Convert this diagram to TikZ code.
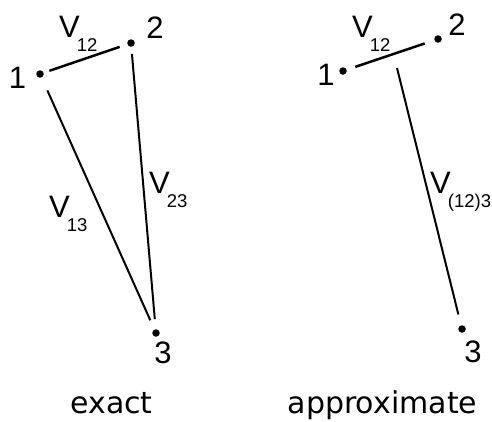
\documentclass[tikz,border=0pt]{standalone}
\usepackage{fontspec}
\setmainfont{DejaVu Sans}
\newfontfamily\labfont{Liberation Sans}
\newcommand{\subsz}{\fontsize{18.5}{18.5}\selectfont}
\newcommand{\Vsub}[1]{V\kern-3pt\raisebox{-14pt}{\subsz #1}}
\tikzset{
  pt/.style={circle,fill=black,inner sep=0pt,minimum size=7.5pt},
  num/.style={inner sep=0pt,anchor=base,font=\labfont\fontsize{31}{31}\selectfont},
  vlab/.style={inner sep=0pt,anchor=base west,font=\labfont\fontsize{31}{31}\selectfont},
  captext/.style={inner sep=0pt,anchor=base,font=\fontsize{30}{30}\selectfont},
  bond/.style={line width=2.5pt},
  link/.style={line width=2pt}
}
\begin{document}
\begin{tikzpicture}[x=1pt,y=-1pt]
\useasboundingbox (0,0) rectangle (492,421);
% left: exact
\node[pt] (a1) at (40,74) {};
\node[pt] (a2) at (131,43) {};
\node[pt] (a3) at (156,333) {};
\node[num] (na1) at (17.5,88) {1};
\node[num] (na2) at (155,38) {2};
\node[num] (na3) at (163,363) {3};
\draw[bond,shorten <=6pt,shorten >=8pt] (a1) -- (a2);
\draw[link,shorten <=14pt,shorten >=10pt] (a1) -- (a3);
\draw[link,shorten <=7pt,shorten >=10pt] (a2) -- (a3);
\node[vlab] (va12) at (59,37) {\Vsub{12}};
\node[vlab] (va13) at (49,217) {\Vsub{13}};
\node[vlab] (va23) at (149,193) {\Vsub{23}};
\node[captext] (exact) at (111.5,413) {exact};
% right: approximate
\node[pt] (b1) at (343,71) {};
\node[pt] (b2) at (438,39) {};
\node[pt] (b3) at (462,329) {};
\node[num] (nb1) at (326,85) {1};
\node[num] (nb2) at (457,35) {2};
\node[num] (nb3) at (473,362) {3};
\draw[bond,shorten <=9pt,shorten >=10pt] (b1) -- (b2);
\coordinate (c12) at (397,68);
\draw[link,shorten >=11pt] (c12) -- (b3);
\node[vlab] (vb12) at (352,37) {\Vsub{12}};
\node[vlab] (vb123) at (430,193) {\Vsub{(12)3}};
\node[captext] (approx) at (382.5,413) {approximate};
\end{tikzpicture}
\end{document}
